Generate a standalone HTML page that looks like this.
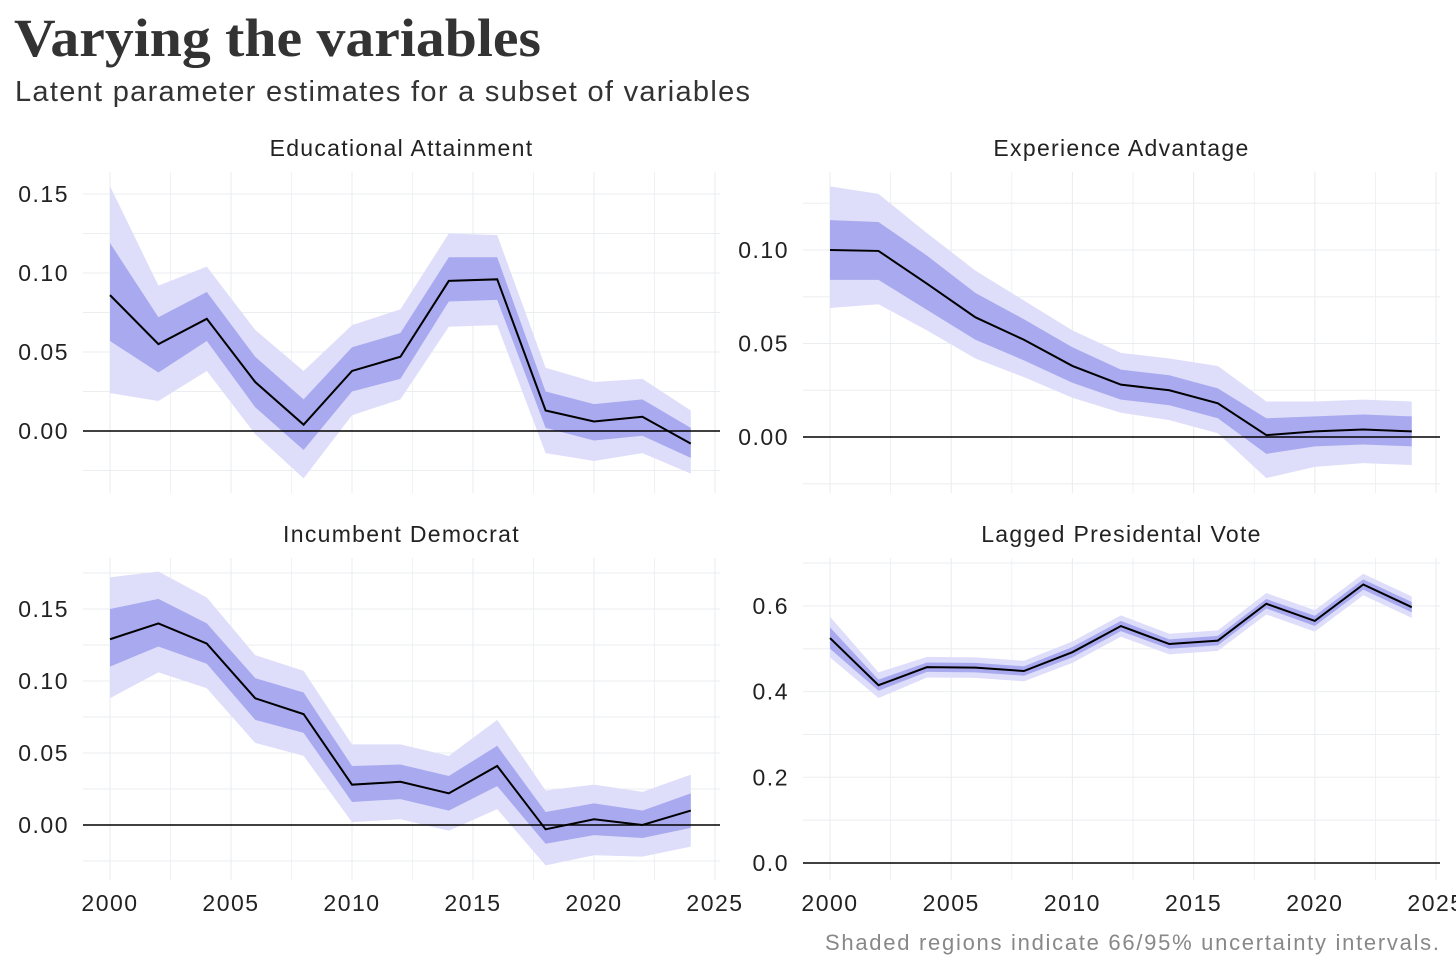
<!DOCTYPE html>
<html><head><meta charset="utf-8">
<style>
body{margin:0;background:#fff;width:1456px;height:971px;overflow:hidden;font-family:"Liberation Sans",sans-serif}
</style></head>
<body>
<svg id="chart" width="1456" height="971" xmlns="http://www.w3.org/2000/svg">
<text x="14" y="56" font-family="Liberation Serif,serif" font-weight="bold" font-size="54" fill="#333" textLength="527" lengthAdjust="spacingAndGlyphs">Varying the variables</text>
<text x="15" y="101" font-size="29" fill="#333" textLength="735" lengthAdjust="spacing">Latent parameter estimates for a subset of variables</text>
<text x="825" y="950" font-size="22" fill="#888" textLength="614" lengthAdjust="spacing">Shaded regions indicate 66/95% uncertainty intervals.</text>
</svg>
<script>
const years=[2000,2002,2004,2006,2008,2010,2012,2014,2016,2018,2020,2022,2024];
const xTicks=[2000,2005,2010,2015,2020,2025];
const edMean=[0.086,0.055,0.071,0.031,0.004,0.038,0.047,0.095,0.096,0.013,0.006,0.009,-0.008];
const edLo66=[0.057,0.037,0.057,0.015,-0.012,0.025,0.033,0.082,0.083,0.002,-0.006,-0.003,-0.017];
const edHi66=[0.119,0.072,0.088,0.047,0.020,0.053,0.062,0.110,0.110,0.025,0.017,0.020,0.002];
const edLo95=[0.024,0.019,0.038,-0.002,-0.030,0.010,0.020,0.066,0.067,-0.014,-0.019,-0.014,-0.027];
const edHi95=[0.155,0.092,0.104,0.064,0.038,0.067,0.077,0.125,0.124,0.040,0.031,0.033,0.013];
const exMean=[0.100,0.0995,0.082,0.064,0.052,0.038,0.028,0.025,0.018,0.001,0.003,0.004,0.003];
const exLo66=[0.084,0.084,0.068,0.052,0.041,0.029,0.020,0.017,0.010,-0.009,-0.005,-0.004,-0.005];
const exHi66=[0.116,0.115,0.097,0.077,0.063,0.048,0.036,0.033,0.026,0.010,0.011,0.012,0.011];
const exLo95=[0.069,0.071,0.057,0.042,0.032,0.021,0.013,0.009,0.002,-0.022,-0.016,-0.014,-0.015];
const exHi95=[0.134,0.130,0.109,0.089,0.073,0.057,0.045,0.042,0.038,0.019,0.019,0.020,0.019];
const inMean=[0.129,0.140,0.126,0.088,0.077,0.028,0.030,0.022,0.041,-0.003,0.004,0.000,0.010];
const inLo66=[0.110,0.124,0.112,0.073,0.064,0.016,0.018,0.010,0.027,-0.013,-0.007,-0.009,-0.002];
const inHi66=[0.150,0.157,0.140,0.102,0.092,0.041,0.042,0.034,0.055,0.009,0.015,0.010,0.022];
const inLo95=[0.088,0.106,0.095,0.057,0.048,0.002,0.004,-0.004,0.011,-0.028,-0.021,-0.022,-0.015];
const inHi95=[0.172,0.176,0.158,0.118,0.107,0.056,0.056,0.048,0.073,0.024,0.028,0.023,0.035];
const lpMean=[0.525,0.415,0.457,0.456,0.448,0.492,0.553,0.511,0.519,0.605,0.565,0.650,0.597];
const lpLo66=[0.500,0.402,0.446,0.445,0.437,0.480,0.541,0.500,0.508,0.594,0.553,0.638,0.585];
const lpHi66=[0.550,0.428,0.468,0.467,0.459,0.504,0.565,0.522,0.530,0.616,0.577,0.662,0.609];
const lpLo95=[0.480,0.385,0.433,0.432,0.424,0.467,0.528,0.487,0.495,0.580,0.540,0.625,0.572];
const lpHi95=[0.575,0.445,0.481,0.480,0.472,0.517,0.578,0.535,0.543,0.630,0.590,0.675,0.622];
const edTicks=[0,0.05,0.10,0.15];
const exTicks=[0,0.05,0.10];
const inTicks=[0,0.05,0.10,0.15];
const lpTicks=[0,0.2,0.4,0.6];

const svg=document.getElementById('chart');
const NS='http://www.w3.org/2000/svg';
function mk(tag,attrs,parent){const e=document.createElementNS(NS,tag);for(const k in attrs)e.setAttribute(k,attrs[k]);parent.appendChild(e);return e;}

function panel(p){
  const g=mk('g',{},svg);
  
  
  const xs=v=>p.x0+(v-2000)*(p.x1-p.x0)/25;
  const ys=v=>p.yz-(v)*p.ppu;
  for(let v=2000;v<=2025;v+=2.5){
    const l=mk('line',{x1:xs(v),x2:xs(v),y1:p.top,y2:p.bot,stroke:'#ebeef0','stroke-width':v%5===0?1.2:0.8},g);
    
    
  }
  const step=p.ticks[1]-p.ticks[0];
  for(let v=p.ticks[0]-step;v<=p.ticks[p.ticks.length-1]+step+1e-9;v+=step/2){
    const y=ys(v);if(y<p.top||y>p.bot)continue;
    const l=mk('line',{x1:p.left,x2:p.right,y1:y,y2:y,stroke:'#ebeef0','stroke-width':1},g);
    
    
  }
  function band(lo,hi,fill,nm){
    let d='M'+years.map((yr,i)=>xs(yr)+','+ys(hi[i])).join('L');
    d+='L'+years.map((yr,i)=>xs(yr)+','+ys(lo[i])).reverse().join('L')+'Z';
    const b=mk('path',{d:d,fill:fill},g);
    
    
  }
  band(p.lo95,p.hi95,'#dedefa','band-95');
  band(p.lo66,p.hi66,'#a9a9ef','band-66');
  const z=mk('line',{x1:p.left,x2:p.right,y1:ys(0),y2:ys(0),stroke:'#000','stroke-width':1.6},g);
  
  
  const ln=mk('path',{d:'M'+years.map((yr,i)=>xs(yr)+','+ys(p.mean[i])).join('L'),fill:'none',stroke:'#000','stroke-width':2},g);
  
  
  p.ticks.forEach(v=>{
    const t=mk('text',{x:p.left-14,y:ys(v)+8,'text-anchor':'end','font-size':23,'letter-spacing':1.5,fill:'#222'},g);
    t.textContent=v.toFixed(p.dec);
    
    
  });
  if(p.showX){xTicks.forEach(v=>{
    const t=mk('text',{x:xs(v),y:911,'text-anchor':'middle','font-size':23,'letter-spacing':1.5,fill:'#222'},g);
    t.textContent=v;
    
    
  });}
  const tt=mk('text',{x:(p.left+p.right)/2,y:p.top-16,'text-anchor':'middle','font-size':23,'letter-spacing':1.3,fill:'#222'},g);
  tt.textContent=p.title;
  
  
}
panel({name:'panel-educational-attainment',title:'Educational Attainment',x0:110,x1:715,left:83,right:720,top:172,bot:493,yz:431,ppu:1580,ticks:edTicks,dec:2,mean:edMean,lo66:edLo66,hi66:edHi66,lo95:edLo95,hi95:edHi95,showX:false});
panel({name:'panel-experience-advantage',title:'Experience Advantage',x0:830,x1:1436,left:803,right:1440,top:172,bot:493,yz:437,ppu:1870,ticks:exTicks,dec:2,mean:exMean,lo66:exLo66,hi66:exHi66,lo95:exLo95,hi95:exHi95,showX:false});
panel({name:'panel-incumbent-democrat',title:'Incumbent Democrat',x0:110,x1:715,left:83,right:720,top:558,bot:880,yz:825,ppu:1440,ticks:inTicks,dec:2,mean:inMean,lo66:inLo66,hi66:inHi66,lo95:inLo95,hi95:inHi95,showX:true});
panel({name:'panel-lagged-presidential-vote',title:'Lagged Presidental Vote',x0:830,x1:1436,left:803,right:1440,top:558,bot:880,yz:863,ppu:428.5,ticks:lpTicks,dec:1,mean:lpMean,lo66:lpLo66,hi66:lpHi66,lo95:lpLo95,hi95:lpHi95,showX:true});
</script>
</body></html>
